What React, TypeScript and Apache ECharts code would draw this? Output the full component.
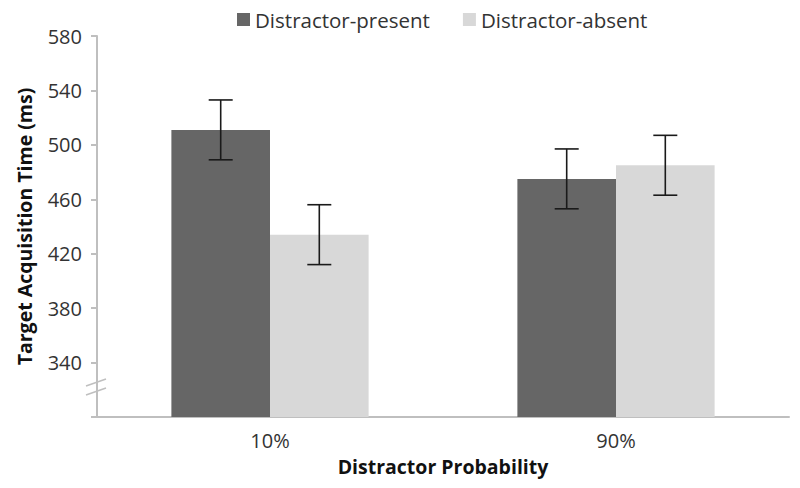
import React, { useEffect, useRef } from "react";
import * as echarts from "echarts";

const categories = ["10%", "90%"];
const presentMeans = [511, 475];
const absentMeans = [434, 485];
const presentErr = [22, 22];
const absentErr = [22, 22];
const yTicks = [300, 340, 380, 420, 460, 500, 540, 580];

const seriesNames = ["Distractor-present", "Distractor-absent"];
const colors = ["#666666", "#d8d8d8"];
const FONT = "'Open Sans', sans-serif";

export default function App() {
  const ref = useRef<HTMLDivElement>(null);
  useEffect(() => {
    if (!ref.current) return;
    const chart = echarts.init(ref.current, undefined, { renderer: "svg" });
    const catGap = 0.43;
    const makeErr = (means: number[], errs: number[], side: number, name: string) => ({
      type: "custom",
      name: name + " error",
      z: 10,
      silent: true,
      data: means.map((m, i) => [i, m, errs[i]]),
      renderItem: (params: any, api: any) => {
        const ci = api.value(0);
        const v = api.value(1);
        const e = api.value(2);
        const band = api.size([1, 0])[0];
        const off = (side * band * (1 - catGap)) / 4;
        const top = api.coord([ci, v + e]);
        const bot = api.coord([ci, v - e]);
        const x = top[0] + off;
        const cap = 12;
        const style = { stroke: "#1a1a1a", lineWidth: 1.6 };
        return {
          type: "group",
          children: [
            { type: "line", shape: { x1: x, y1: top[1], x2: x, y2: bot[1] }, style },
            { type: "line", shape: { x1: x - cap, y1: top[1], x2: x + cap, y2: top[1] }, style },
            { type: "line", shape: { x1: x - cap, y1: bot[1], x2: x + cap, y2: bot[1] }, style },
          ],
        };
      },
    });
    chart.setOption({
      animation: false,
      textStyle: { fontFamily: FONT },
      legend: {
        data: seriesNames,
        left: 232,
        top: 4,
        itemWidth: 13,
        itemHeight: 13,
        itemGap: 33,
        icon: "rect",
        textStyle: { fontSize: 20.5, color: "#333333", fontFamily: FONT },
      },
      grid: { left: 97, right: 11, top: 36, bottom: 71 },
      xAxis: {
        type: "category",
        data: categories,
        name: "Distractor Probability",
        nameLocation: "middle",
        nameGap: 39,
        nameTextStyle: { fontSize: 19.5, fontWeight: "bold", color: "#111111", fontFamily: FONT },
        axisLine: { lineStyle: { color: "#bfbfbf", width: 2 } },
        axisTick: { length: 6, lineStyle: { color: "#bfbfbf", width: 2 } },
        axisLabel: { fontSize: 20, color: "#333333", margin: 13, fontFamily: FONT },
      },
      yAxis: {
        type: "value",
        min: 300,
        max: 580,
        interval: 40,
        name: "Target Acquisition Time (ms)",
        nameLocation: "middle",
        nameGap: 63,
        nameTextStyle: { fontSize: 19.5, fontWeight: "bold", color: "#111111", fontFamily: FONT },
        axisLine: { show: true, lineStyle: { color: "#bfbfbf", width: 2 } },
        axisTick: { show: true, length: 6, lineStyle: { color: "#bfbfbf", width: 2 } },
        splitLine: { show: false },
        axisLabel: {
          fontSize: 20,
          color: "#333333",
          margin: 15,
          fontFamily: FONT,
          formatter: (v: number) => (v === yTicks[0] ? "" : String(v)),
        },
      },
      series: [
        {
          type: "bar",
          name: seriesNames[0],
          data: presentMeans,
          itemStyle: { color: colors[0] },
          barGap: "0%",
          barCategoryGap: "43%",
        },
        {
          type: "bar",
          name: seriesNames[1],
          data: absentMeans,
          itemStyle: { color: colors[1] },
          barGap: "0%",
          barCategoryGap: "43%",
        },
        makeErr(presentMeans, presentErr, -1, seriesNames[0]),
        makeErr(absentMeans, absentErr, 1, seriesNames[1]),
      ],
      graphic: [
        { type: "line", z: 100, shape: { x1: 86, y1: 386, x2: 106, y2: 379 }, style: { stroke: "#bfbfbf", lineWidth: 1.5 } },
        { type: "line", z: 100, shape: { x1: 86, y1: 395, x2: 106, y2: 388 }, style: { stroke: "#bfbfbf", lineWidth: 1.5 } },
      ],
    });
    return () => chart.dispose();
  }, []);
  return (
    <div
      ref={ref}
      style={{ position: "fixed", left: 0, top: 0, width: 800, height: 488, background: "#ffffff" }}
    />
  );
}
